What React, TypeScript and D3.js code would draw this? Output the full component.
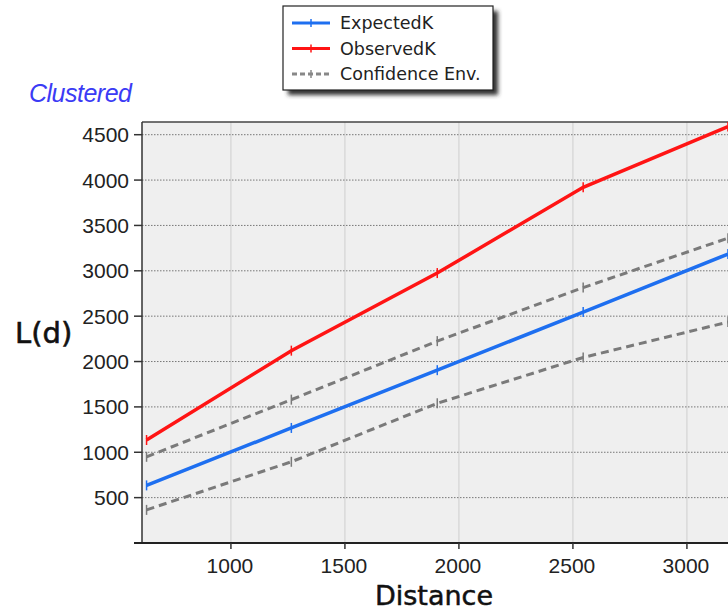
import React, { useRef, useEffect } from 'react';
import * as d3 from 'd3';

const distances = [630, 1265, 1905, 2545, 3180];
const expectedK = [635, 1268, 1905, 2545, 3185];
const observedK = [1135, 2120, 2975, 3920, 4590];
const confUpper = [950, 1580, 2225, 2815, 3360];
const confLower = [365, 895, 1540, 2045, 2435];
const yTicks = [500, 1000, 1500, 2000, 2500, 3000, 3500, 4000, 4500];
const xTicks = [1000, 1500, 2000, 2500, 3000];

export default function App() {
  const svgRef = useRef<SVGSVGElement>(null);

  useEffect(() => {
    const w = 728;
    const h = 611;
    const svg = d3.select(svgRef.current);
    svg.selectAll('*').remove();
    svg.attr('width', w).attr('height', h);

    const left = 142, top = 122, bottom = 543, right = 760;
    const x = d3.scaleLinear().domain([610, 3300]).range([left, left + 0.228 * 2690]);
    const y = d3.scaleLinear().domain([0, 4640]).range([bottom, top]);
    const font = 'Liberation Sans, Arial, sans-serif';
    const dejavu = 'DejaVu Sans, sans-serif';

    const defs = svg.append('defs');
    defs.append('clipPath').attr('id', 'plotclip')
      .append('rect').attr('x', left).attr('y', top).attr('width', right - left).attr('height', bottom - top);
    const f = defs.append('filter').attr('id', 'shadow').attr('x', '-10%').attr('y', '-10%').attr('width', '130%').attr('height', '140%');
    f.append('feGaussianBlur').attr('stdDeviation', 2);

    // plot background
    svg.append('rect')
      .attr('x', left).attr('y', top).attr('width', right - left).attr('height', bottom - top)
      .attr('fill', '#efefef');

    // vertical grid
    svg.append('g').selectAll('line').data(xTicks).join('line')
      .attr('x1', d => x(d)).attr('x2', d => x(d))
      .attr('y1', top).attr('y2', bottom)
      .attr('stroke', '#cfcfcf').attr('stroke-width', 1);

    // horizontal grid (dotted)
    svg.append('g').selectAll('line').data(yTicks).join('line')
      .attr('x1', left).attr('x2', right)
      .attr('y1', d => y(d)).attr('y2', d => y(d))
      .attr('stroke', '#777').attr('stroke-width', 1)
      .attr('stroke-dasharray', '1.5,1.5');

    // borders
    svg.append('line').attr('x1', left).attr('x2', right).attr('y1', top).attr('y2', top)
      .attr('stroke', '#444').attr('stroke-width', 1.5);
    svg.append('line').attr('x1', left).attr('x2', left).attr('y1', top).attr('y2', bottom)
      .attr('stroke', '#333').attr('stroke-width', 1.5);
    svg.append('line').attr('x1', left - 8).attr('x2', right).attr('y1', bottom).attr('y2', bottom)
      .attr('stroke', '#222').attr('stroke-width', 2);

    // y ticks
    const yg = svg.append('g');
    yg.selectAll('line').data(yTicks).join('line')
      .attr('x1', left - 8).attr('x2', left)
      .attr('y1', d => y(d)).attr('y2', d => y(d))
      .attr('stroke', '#333').attr('stroke-width', 1.5);
    yg.selectAll('text').data(yTicks).join('text')
      .attr('x', left - 13).attr('y', d => y(d)).attr('dy', '0.36em')
      .attr('text-anchor', 'end')
      .style('font-family', font).style('font-size', '21px').attr('fill', '#222')
      .text(d => d);

    // x ticks
    const xg = svg.append('g');
    xg.selectAll('line').data(xTicks).join('line')
      .attr('x1', d => x(d)).attr('x2', d => x(d))
      .attr('y1', bottom).attr('y2', bottom + 6)
      .attr('stroke', '#333').attr('stroke-width', 1.5);
    xg.selectAll('text').data(xTicks).join('text')
      .attr('x', d => x(d) - 1).attr('y', bottom + 22).attr('dy', '0.36em')
      .attr('text-anchor', 'middle')
      .style('font-family', font).style('font-size', '21px').attr('fill', '#222')
      .text(d => d);

    // series
    const series = [
      { name: 'ConfLower', values: confLower, color: '#7a7a7a', width: 3, dash: '8,5' },
      { name: 'ConfUpper', values: confUpper, color: '#7a7a7a', width: 3, dash: '8,5' },
      { name: 'ExpectedK', values: expectedK, color: '#1e6ff0', width: 3.5, dash: null },
      { name: 'ObservedK', values: observedK, color: '#ff1414', width: 3.5, dash: null },
    ];
    const line = d3.line<number>().x((d, i) => x(distances[i])).y(d => y(d));
    const plot = svg.append('g').attr('clip-path', 'url(#plotclip)');
    series.forEach(s => {
      plot.append('path').datum(s.values)
        .attr('d', line)
        .attr('fill', 'none')
        .attr('stroke', s.color)
        .attr('stroke-width', s.width)
        .attr('stroke-dasharray', s.dash);
      plot.selectAll(null).data(s.values).join('line')
        .attr('x1', (d, i) => x(distances[i])).attr('x2', (d, i) => x(distances[i]))
        .attr('y1', d => y(d) - 5).attr('y2', d => y(d) + 5)
        .attr('stroke', s.color).attr('stroke-width', 1.5);
    });

    // labels
    svg.append('text').attr('x', 29).attr('y', 102)
      .style('font-family', font).style('font-size', '25px').style('font-style', 'italic')
      .attr('fill', '#3b3bf5').attr('letter-spacing', '-0.5px')
      .text('Clustered');
    svg.append('text').attr('x', 15).attr('y', 343)
      .style('font-family', dejavu).style('font-size', '29px')
      .attr('fill', '#111').attr('stroke', '#111').attr('stroke-width', 0.6)
      .text('L(d)');
    svg.append('text').attr('x', 434).attr('y', 605)
      .attr('text-anchor', 'middle')
      .style('font-family', dejavu).style('font-size', '27px')
      .attr('fill', '#111').attr('stroke', '#111').attr('stroke-width', 0.5)
      .text('Distance');

    // legend
    const lg = svg.append('g');
    lg.append('rect').attr('x', 288).attr('y', 11).attr('width', 210).attr('height', 84)
      .attr('fill', '#333').attr('filter', 'url(#shadow)');
    lg.append('rect').attr('x', 283).attr('y', 6).attr('width', 210).attr('height', 84)
      .attr('fill', '#fff').attr('stroke', '#222').attr('stroke-width', 1.2);
    const legendItems = [
      { name: 'ExpectedK', color: '#1e6ff0', dash: null },
      { name: 'ObservedK', color: '#ff1414', dash: null },
      { name: 'Confidence Env.', color: '#888', dash: '5,3' },
    ];
    legendItems.forEach((it, i) => {
      const cy = 23 + i * 25.5;
      lg.append('line').attr('x1', 292).attr('x2', 330).attr('y1', cy).attr('y2', cy)
        .attr('stroke', it.color).attr('stroke-width', 3).attr('stroke-dasharray', it.dash);
      lg.append('line').attr('x1', 311).attr('x2', 311).attr('y1', cy - 4).attr('y2', cy + 4)
        .attr('stroke', it.color).attr('stroke-width', 1.5);
      lg.append('text').attr('x', 340).attr('y', cy).attr('dy', '0.36em')
        .style('font-family', dejavu).style('font-size', '17.5px').attr('fill', '#222')
        .text(it.name);
    });
  }, []);

  return (
    <div style={{ position: 'absolute', left: 0, top: 0 }}>
      <svg ref={svgRef} style={{ display: 'block', background: '#fff' }}></svg>
    </div>
  );
}
